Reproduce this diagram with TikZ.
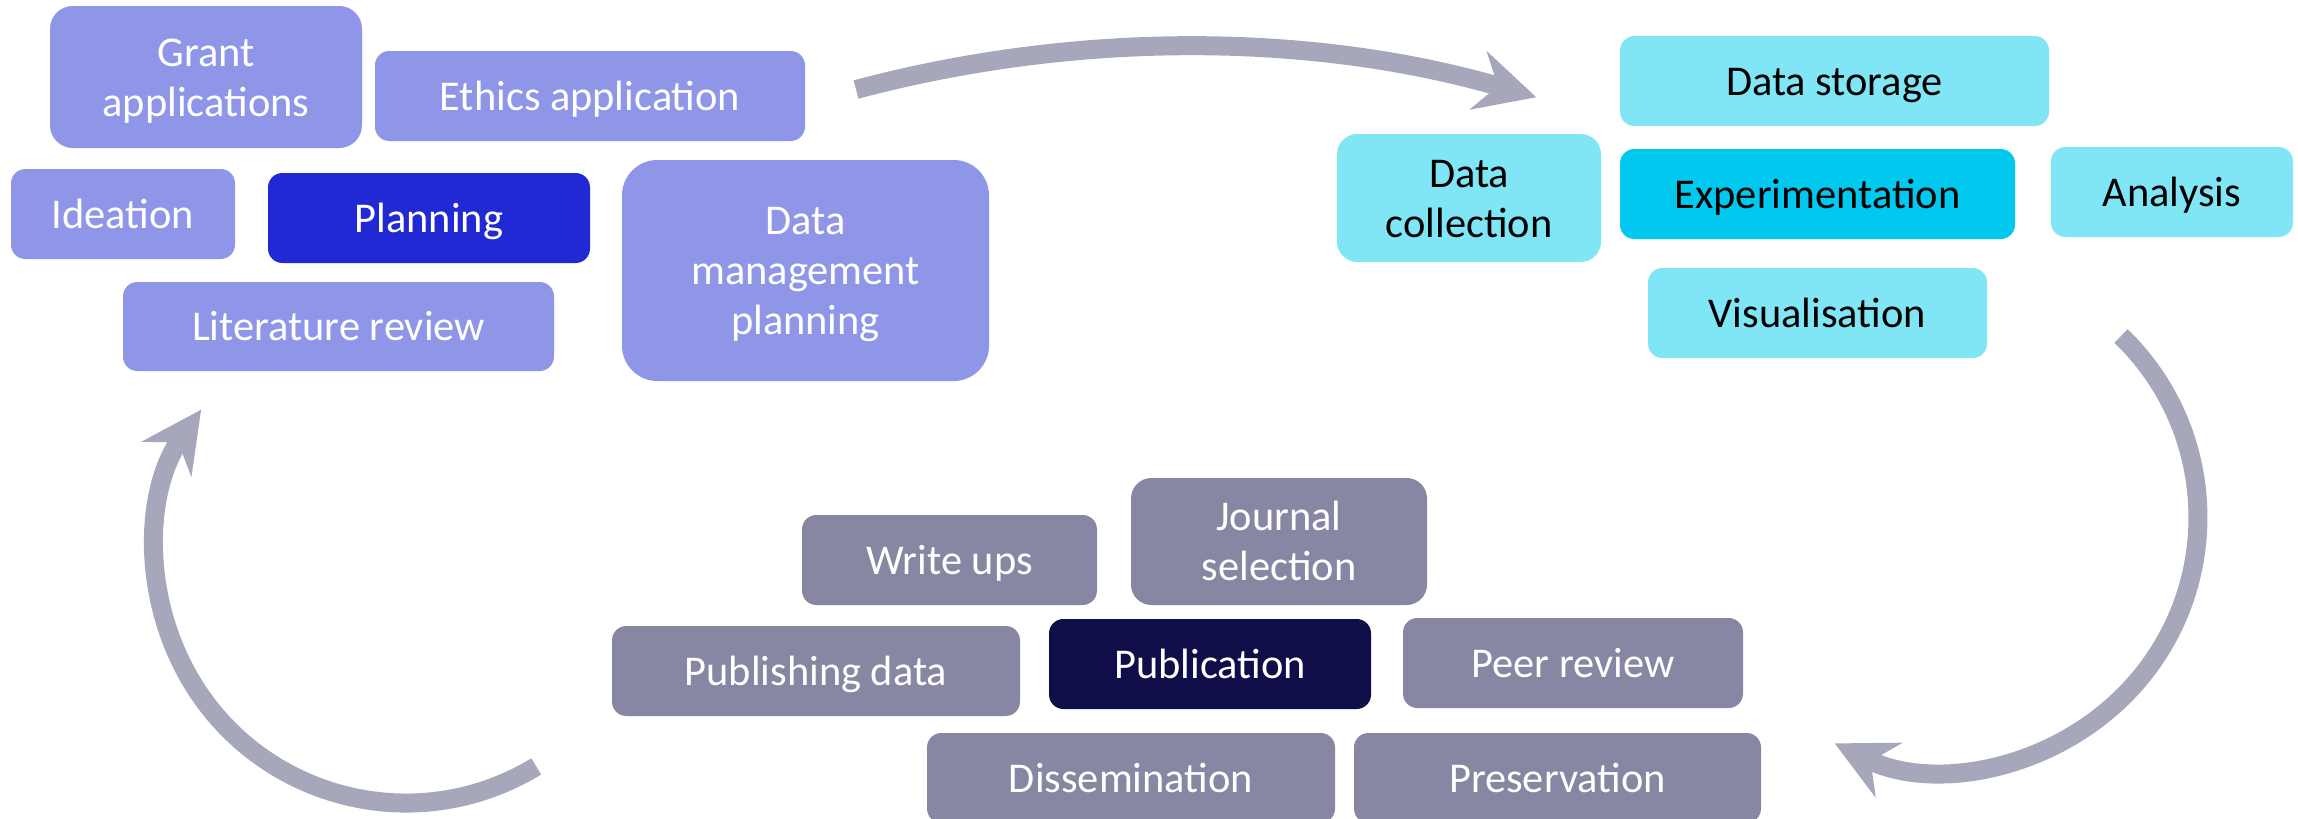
\documentclass[tikz,border=0pt]{standalone}
\usepackage{fontspec}
\setmainfont{Carlito}
\usetikzlibrary{arrows.meta}
\definecolor{plc}{HTML}{8F96E8}
\definecolor{planc}{HTML}{2029D3}
\definecolor{cyl}{HTML}{80E5F5}
\definecolor{cyd}{HTML}{00C8EE}
\definecolor{grc}{HTML}{8786A3}
\definecolor{grd}{HTML}{0F0E48}
\definecolor{arrc}{HTML}{A7A7BC}
\newcommand\boxstrut{\rule[-5.5pt]{0pt}{25pt}}
\tikzset{
  box/.style={inner sep=0pt, align=center, font=\fontsize{21.2}{25}\selectfont, rounded corners=7.2pt,
    execute at end node=\boxstrut},
  plbox/.style={box, fill=plc, text=white},
  planbox/.style={box, fill=planc, text=white},
  cybox/.style={box, fill=cyl, text=black},
  cydbox/.style={box, fill=cyd, text=black},
  grbox/.style={box, fill=grc, text=white},
  grdbox/.style={box, fill=grd, text=white},
  cyc/.style={draw=arrc, line width=9.5pt, -{Stealth[length=30pt, width=30pt, inset=10pt, fill=arrc]}},
}
\begin{document}
\begin{tikzpicture}[x=0.5pt, y=0.5pt]
\fill[white] (0,0) rectangle (2298,-819);
\clip (0,0) rectangle (2298,-819);
\useasboundingbox (0,0) rectangle (2298,-819);

% Planning group
\node[plbox, minimum width=156pt, minimum height=71pt, rounded corners=11.4pt] (grant) at (206,-77) {\boxstrut Grant\\applications};
\node[plbox, minimum width=215pt, minimum height=45pt] (ethics) at (590,-96) {Ethics application};
\node[plbox, minimum width=112pt, minimum height=45pt] (ideation) at (123,-214) {Ideation};
\node[planbox, minimum width=161pt, minimum height=45pt] (planning) at (429,-218) {Planning};
\node[plbox, minimum width=215.5pt, minimum height=44.5pt] (litrev) at (338.5,-326.5) {Literature review};
\node[plbox, minimum width=183.5pt, minimum height=110.5pt, rounded corners=17.7pt] (dmp) at (805.5,-270.5) {\boxstrut Data\\management\\planning};

% Experimentation group
\node[cybox, minimum width=214.5pt, minimum height=45pt] (storage) at (1834.5,-81) {Data storage};
\node[cybox, minimum width=132pt, minimum height=64pt, rounded corners=10.2pt] (collection) at (1469,-198) {\boxstrut Data\\collection};
\node[cydbox, minimum width=197.5pt, minimum height=45pt] (experim) at (1817.5,-194) {Experimentation};
\node[cybox, minimum width=121pt, minimum height=45pt] (analysis) at (2172,-192) {Analysis};
\node[cybox, minimum width=169.5pt, minimum height=45pt] (visual) at (1817.5,-313) {Visualisation};

% Publication group
\node[grbox, minimum width=147.5pt, minimum height=45pt] (writeups) at (949.5,-560) {Write ups};
\node[grbox, minimum width=148pt, minimum height=63.5pt, rounded corners=10.2pt] (journal) at (1279,-541.5) {\boxstrut Journal\\selection};
\node[grbox, minimum width=204pt, minimum height=45pt] (pubdata) at (816,-671) {Publishing data};
\node[grdbox, minimum width=161pt, minimum height=45pt] (publication) at (1210,-664) {Publication};
\node[grbox, minimum width=170pt, minimum height=45pt] (peer) at (1573,-663) {Peer review};
\node[grbox, minimum width=204pt, minimum height=45pt] (dissem) at (1131,-778) {Dissemination};
\node[grbox, minimum width=203.5pt, minimum height=45pt] (preserv) at (1557.5,-778) {Preservation};

% Cycle arrows
\coordinate (a1s) at (856,-89.5);
\coordinate (a2s) at (2121,-336);
\coordinate (a3s) at (536.2,-766.4);
\draw[cyc] (a1s) arc[start angle=104.9, end angle=73.8, radius=1269];
\draw[cyc] (a2s) arc[start angle=46, end angle=-116.2, radius=252];
\draw[cyc] (a3s) arc[start angle=-58.6, end angle=-215, radius=250];
\end{tikzpicture}
\end{document}
